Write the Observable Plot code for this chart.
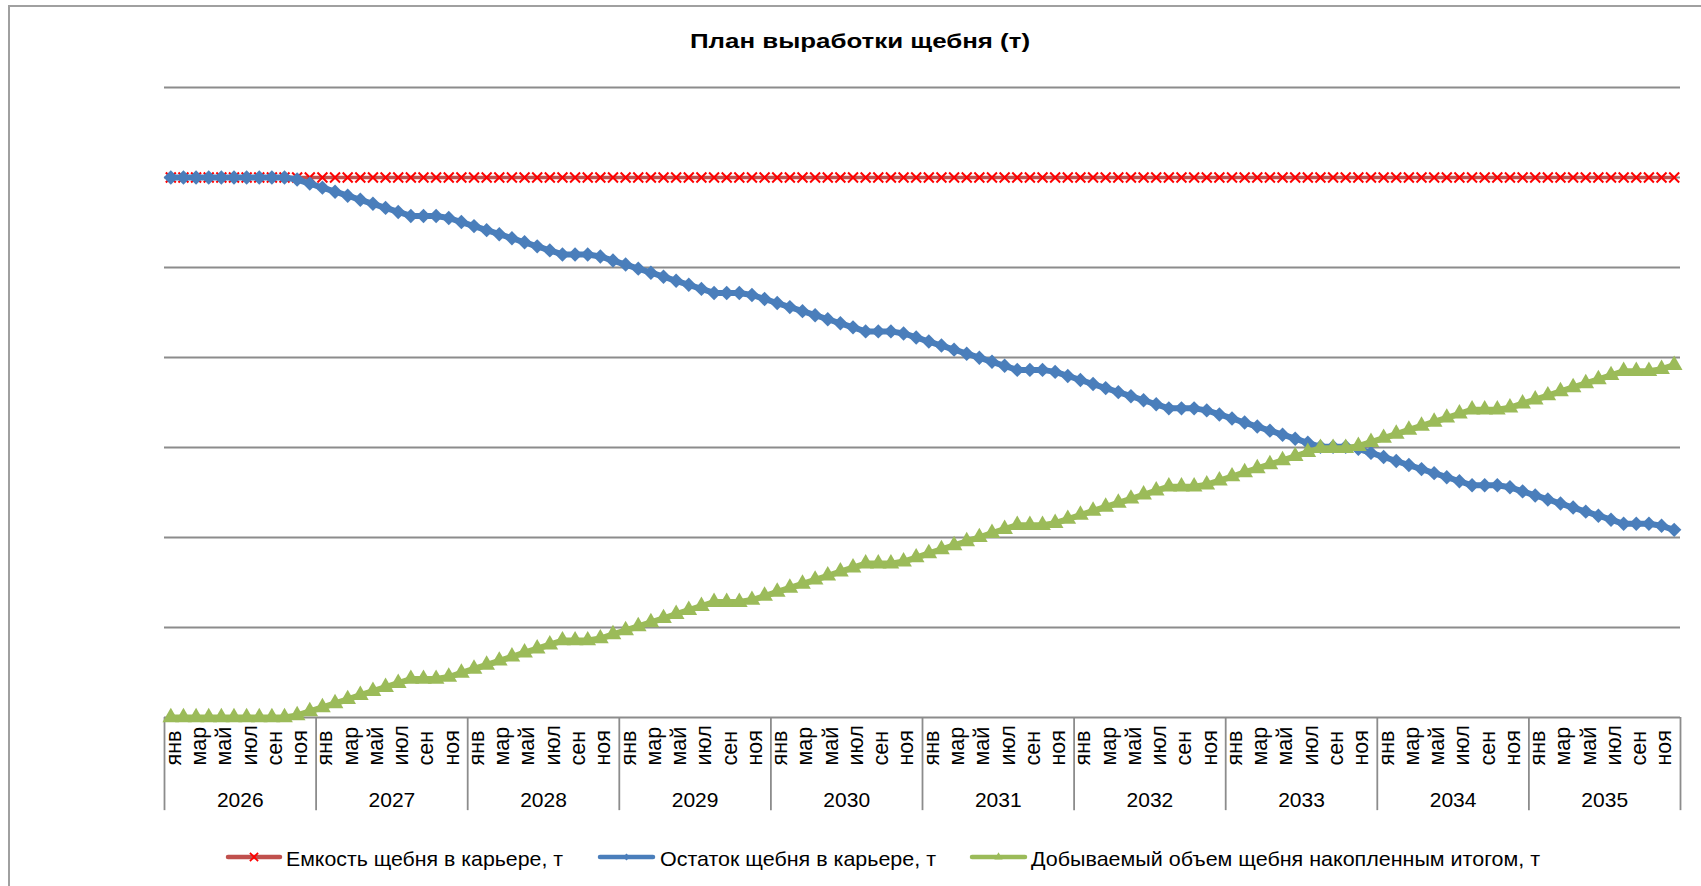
<!DOCTYPE html>
<html>
<head>
<meta charset="utf-8">
<script src="https://cdn.jsdelivr.net/npm/d3@7"></script>
<script src="https://cdn.jsdelivr.net/npm/@observablehq/plot@0.6"></script>
<style>
  body { margin: 0; background: #fff; }
  #frame { position: relative; width: 1701px; height: 886px; overflow: hidden; background: #fff; }
  #border { position: absolute; left: 8px; top: 5px; width: 1720px; height: 920px; border: 2px solid #a0a0a0; }
  #chart { position: absolute; left: 0; top: 0; }
  #overlay { position: absolute; left: 0; top: 0; }
</style>
</head>
<body>
<div id="frame">
  <div id="border"></div>
  <div id="chart"></div>
  <svg id="overlay" width="1701" height="886"></svg>
</div>
<script>
// ---- Data (thousand tonnes; gridline step = 1000) ----
const years = [2026, 2027, 2028, 2029, 2030, 2031, 2032, 2033, 2034, 2035];
const monthTicks = ["янв", "мар", "май", "июл", "сен", "ноя"]; // labelled every second month
const gridTicks = [0, 1000, 2000, 3000, 4000, 5000, 6000, 7000];
const seriesNames = [
  "Емкость щебня в карьере, т",
  "Остаток щебня в карьере, т",
  "Добываемый объем щебня накопленным итогом, т"
];

// Емкость щебня в карьере (monthly, Jan 2026 .. Dec 2035)
const capacity = [
  6000,6000,6000,6000,6000,6000,6000,6000,6000,6000,6000,6000,
  6000,6000,6000,6000,6000,6000,6000,6000,6000,6000,6000,6000,
  6000,6000,6000,6000,6000,6000,6000,6000,6000,6000,6000,6000,
  6000,6000,6000,6000,6000,6000,6000,6000,6000,6000,6000,6000,
  6000,6000,6000,6000,6000,6000,6000,6000,6000,6000,6000,6000,
  6000,6000,6000,6000,6000,6000,6000,6000,6000,6000,6000,6000,
  6000,6000,6000,6000,6000,6000,6000,6000,6000,6000,6000,6000,
  6000,6000,6000,6000,6000,6000,6000,6000,6000,6000,6000,6000,
  6000,6000,6000,6000,6000,6000,6000,6000,6000,6000,6000,6000,
  6000,6000,6000,6000,6000,6000,6000,6000,6000,6000,6000,6000
];

// Остаток щебня в карьере
const remaining = [
  6000,6000,6000,6000,6000,6000,6000,6000,6000,6000,5977.5,5932.5,
  5887.5,5842.5,5797.5,5752.5,5707.5,5662.5,5617.5,5572.5,5572.5,5572.5,5550,5505,
  5460,5415,5370,5325,5280,5235,5190,5145,5145,5145,5122.5,5077.5,
  5032.5,4987.5,4942.5,4897.5,4852.5,4807.5,4762.5,4717.5,4717.5,4717.5,4695,4650,
  4605,4560,4515,4470,4425,4380,4335,4290,4290,4290,4267.5,4222.5,
  4177.5,4132.5,4087.5,4042.5,3997.5,3952.5,3907.5,3862.5,3862.5,3862.5,3840,3795,
  3750,3705,3660,3615,3570,3525,3480,3435,3435,3435,3412.5,3367.5,
  3322.5,3277.5,3232.5,3187.5,3142.5,3097.5,3052.5,3007.5,3007.5,3007.5,2985,2940,
  2895,2850,2805,2760,2715,2670,2625,2580,2580,2580,2557.5,2512.5,
  2467.5,2422.5,2377.5,2332.5,2287.5,2242.5,2197.5,2152.5,2152.5,2152.5,2130,2085
];

// Добываемый объем щебня накопленным итогом
const mined = [
  0,0,0,0,0,0,0,0,0,0,22.5,67.5,
  112.5,157.5,202.5,247.5,292.5,337.5,382.5,427.5,427.5,427.5,450,495,
  540,585,630,675,720,765,810,855,855,855,877.5,922.5,
  967.5,1012.5,1057.5,1102.5,1147.5,1192.5,1237.5,1282.5,1282.5,1282.5,1305,1350,
  1395,1440,1485,1530,1575,1620,1665,1710,1710,1710,1732.5,1777.5,
  1822.5,1867.5,1912.5,1957.5,2002.5,2047.5,2092.5,2137.5,2137.5,2137.5,2160,2205,
  2250,2295,2340,2385,2430,2475,2520,2565,2565,2565,2587.5,2632.5,
  2677.5,2722.5,2767.5,2812.5,2857.5,2902.5,2947.5,2992.5,2992.5,2992.5,3015,3060,
  3105,3150,3195,3240,3285,3330,3375,3420,3420,3420,3442.5,3487.5,
  3532.5,3577.5,3622.5,3667.5,3712.5,3757.5,3802.5,3847.5,3847.5,3847.5,3870,3915
];

const colors = { capLine: "#C0504D", capMark: "#FF0000", rest: "#4A7EBB", mined: "#9BBB59" };
const font = "'Liberation Sans', Arial, sans-serif";

// ---- Tables built from arrays ----
const rows = capacity.map((c, i) => ({ i, cap: c, rest: remaining[i], mined: mined[i] }));
const yearEdges = d3.range(years.length + 1).map(k => 12 * k - 0.5);
const monthLabelRows = years.flatMap((y, k) => monthTicks.map((m, j) => ({ x: 12 * k + 2 * j, label: m })));
const yearLabelRows = years.map((y, k) => ({ x: 12 * k + 5.5, label: String(y) }));

const chart = Plot.plot({
  width: 1701,
  height: 830,
  marginLeft: 164,
  marginRight: 21,
  marginTop: 87,
  marginBottom: 113,
  style: { background: "transparent", fontFamily: font, overflow: "visible" },
  x: { domain: [-0.5, 119.5], axis: null },
  y: { domain: [0, 7000], axis: null },
  marks: [
    Plot.ruleY(gridTicks, { stroke: "#8c8c8c", strokeWidth: 1.8 }),
    Plot.ruleX(yearEdges, { x: d => d, y1: 0, y2: -1035, stroke: "#8c8c8c", strokeWidth: 1.8 }),
    Plot.line(rows, { x: "i", y: "cap", stroke: colors.capLine, strokeWidth: 3.5 }),
    Plot.dot(rows, { x: "i", y: "cap", symbol: "times", r: 4.6, stroke: colors.capMark, strokeWidth: 2 }),
    Plot.line(rows, { x: "i", y: "rest", stroke: colors.rest, strokeWidth: 6 }),
    Plot.dot(rows, { x: "i", y: "rest", symbol: "diamond2", r: 6.5, fill: colors.rest, stroke: null }),
    Plot.line(rows, { x: "i", y: "mined", stroke: colors.mined, strokeWidth: 6 }),
    Plot.dot(rows, { x: "i", y: "mined", symbol: "triangle", r: 6.2, fill: colors.mined, stroke: null }),
    Plot.text(monthLabelRows, { x: "x", y: d => 0, text: "label", rotate: -90, textAnchor: "start", dy: 48, dx: 3, fontSize: 21.5, fill: "#000" }),
    Plot.text(yearLabelRows, { x: "x", y: d => 0, text: "label", dy: 83, fontSize: 21, fill: "#000" })
  ]
});
document.getElementById("chart").appendChild(chart);

// ---- Title and legend ----
const ov = d3.select("#overlay");
ov.append("text")
  .attr("x", 860).attr("y", 40)
  .attr("text-anchor", "middle").attr("dominant-baseline", "central")
  .attr("font-family", font).attr("font-weight", "bold").attr("font-size", 21)
  .attr("textLength", 340).attr("lengthAdjust", "spacingAndGlyphs")
  .text("План выработки щебня (т)");

const legendY = 857;
const legendItems = [
  { name: seriesNames[0], x0: 228, x1: 280, tx: 286, tw: 277, line: colors.capLine, sym: d3.symbolTimes, size: 45, fill: "none", stroke: colors.capMark },
  { name: seriesNames[1], x0: 600, x1: 653, tx: 660, tw: 276, line: colors.rest, sym: d3.symbolDiamond2, size: 30, fill: colors.rest, stroke: "none" },
  { name: seriesNames[2], x0: 972, x1: 1025, tx: 1031, tw: 509, line: colors.mined, sym: d3.symbolTriangle, size: 30, fill: colors.mined, stroke: "none" }
];
legendItems.forEach(it => {
  ov.append("line").attr("x1", it.x0).attr("x2", it.x1).attr("y1", legendY).attr("y2", legendY)
    .attr("stroke", it.line).attr("stroke-width", 4.5).attr("stroke-linecap", "round");
  ov.append("path").attr("d", d3.symbol(it.sym, it.size)())
    .attr("transform", `translate(${(it.x0 + it.x1) / 2},${legendY})`)
    .attr("fill", it.fill).attr("stroke", it.stroke).attr("stroke-width", 1.8);
  ov.append("text").attr("x", it.tx).attr("y", legendY + 1)
    .attr("dominant-baseline", "central")
    .attr("font-family", font).attr("font-size", 21)
    .attr("textLength", it.tw).attr("lengthAdjust", "spacingAndGlyphs")
    .text(it.name);
});
</script>
</body>
</html>
